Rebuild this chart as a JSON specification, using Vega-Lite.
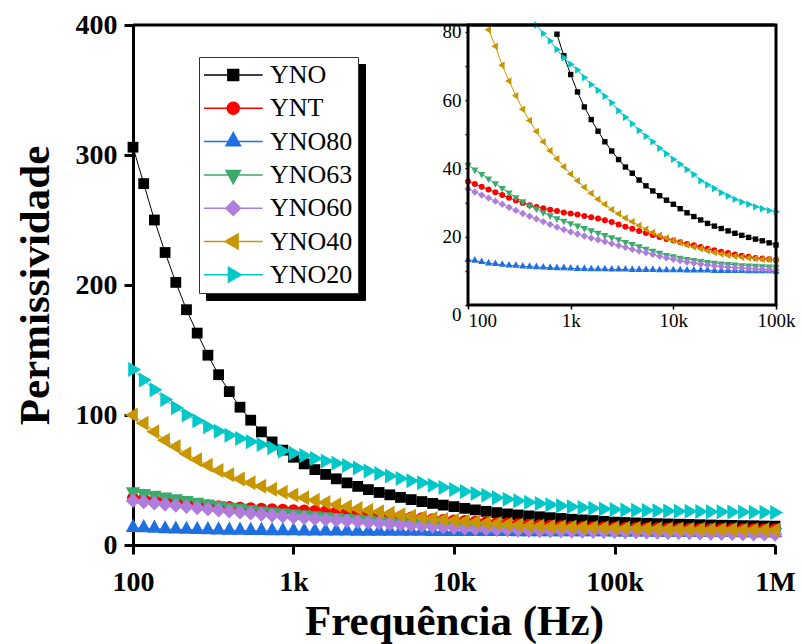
{
"$schema":"https://vega.github.io/schema/vega-lite/v6.json",
"width":642,"height":520,
"autosize":"none",
"padding":{"left":133,"top":25,"right":27,"bottom":99},
"background":"white",
"config":{"view":{"stroke":null},"font":"Liberation Serif","axis":{"grid":false,"domainColor":"black","tickColor":"black","labelColor":"black","titleColor":"black","labelFont":"Liberation Serif","titleFont":"Liberation Serif","labelFlush":false,"labelOverlap":false,"labelBound":false}},
"datasets":{"d":[
{"f":100,"s":"YNO","v":306},{"f":116.6,"s":"YNO","v":278},{"f":135.9,"s":"YNO","v":250},{"f":158.5,"s":"YNO","v":225},{"f":184.8,"s":"YNO","v":202},{"f":215.4,"s":"YNO","v":181},{"f":251.2,"s":"YNO","v":163},{"f":292.9,"s":"YNO","v":146},{"f":341.5,"s":"YNO","v":131},{"f":398.1,"s":"YNO","v":118},{"f":464.2,"s":"YNO","v":106},{"f":541.2,"s":"YNO","v":96},{"f":631,"s":"YNO","v":87},{"f":735.6,"s":"YNO","v":79.3},{"f":857.7,"s":"YNO","v":73},{"f":1000,"s":"YNO","v":67.5},
{"f":1166,"s":"YNO","v":62.4},{"f":1359,"s":"YNO","v":58},{"f":1585,"s":"YNO","v":54.3},{"f":1848,"s":"YNO","v":50.9},{"f":2154,"s":"YNO","v":47.8},{"f":2512,"s":"YNO","v":45.1},{"f":2929,"s":"YNO","v":42.6},{"f":3415,"s":"YNO","v":40.4},{"f":3981,"s":"YNO","v":38.6},{"f":4642,"s":"YNO","v":36.6},{"f":5412,"s":"YNO","v":34.9},{"f":6310,"s":"YNO","v":33.4},{"f":7356,"s":"YNO","v":32},{"f":8577,"s":"YNO","v":30.7},{"f":10000,"s":"YNO","v":29.5},
{"f":11659,"s":"YNO","v":28.2},{"f":13594,"s":"YNO","v":27},{"f":15849,"s":"YNO","v":25.9},{"f":18478,"s":"YNO","v":24.9},{"f":21544,"s":"YNO","v":23.9},{"f":25119,"s":"YNO","v":23.1},{"f":29286,"s":"YNO","v":22.4},{"f":34145,"s":"YNO","v":21.7},{"f":39811,"s":"YNO","v":21},{"f":46416,"s":"YNO","v":20.4},{"f":54117,"s":"YNO","v":19.8},{"f":63096,"s":"YNO","v":19.3},{"f":73564,"s":"YNO","v":18.8},{"f":85770,"s":"YNO","v":18.2},{"f":100000,"s":"YNO","v":17.6},
{"f":116591,"s":"YNO","v":17.3},{"f":135936,"s":"YNO","v":17},{"f":158489,"s":"YNO","v":16.7},{"f":184785,"s":"YNO","v":16.4},{"f":215443,"s":"YNO","v":16.2},{"f":251189,"s":"YNO","v":16},{"f":292864,"s":"YNO","v":15.8},{"f":341455,"s":"YNO","v":15.6},{"f":398107,"s":"YNO","v":15.4},{"f":464159,"s":"YNO","v":15.2},{"f":541170,"s":"YNO","v":15.1},{"f":630957,"s":"YNO","v":14.9},{"f":735642,"s":"YNO","v":14.8},{"f":857696,"s":"YNO","v":14.6},{"f":1000000,"s":"YNO","v":14.5},

{"f":100,"s":"YNT","v":36.2},{"f":116.6,"s":"YNT","v":35.4},{"f":135.9,"s":"YNT","v":34.6},{"f":158.5,"s":"YNT","v":33.8},{"f":184.8,"s":"YNT","v":33},{"f":215.4,"s":"YNT","v":32.2},{"f":251.2,"s":"YNT","v":31.4},{"f":292.9,"s":"YNT","v":30.6},{"f":341.5,"s":"YNT","v":29.9},{"f":398.1,"s":"YNT","v":29.2},{"f":464.2,"s":"YNT","v":28.7},{"f":541.2,"s":"YNT","v":28.3},{"f":631,"s":"YNT","v":27.9},{"f":735.6,"s":"YNT","v":27.5},{"f":857.7,"s":"YNT","v":27.1},{"f":1000,"s":"YNT","v":26.8},
{"f":1166,"s":"YNT","v":26.5},{"f":1359,"s":"YNT","v":26.1},{"f":1585,"s":"YNT","v":25.7},{"f":1848,"s":"YNT","v":25.3},{"f":2154,"s":"YNT","v":24.8},{"f":2512,"s":"YNT","v":24.3},{"f":2929,"s":"YNT","v":23.6},{"f":3415,"s":"YNT","v":22.9},{"f":3981,"s":"YNT","v":22.3},{"f":4642,"s":"YNT","v":21.7},{"f":5412,"s":"YNT","v":21.1},{"f":6310,"s":"YNT","v":20.5},{"f":7356,"s":"YNT","v":19.9},{"f":8577,"s":"YNT","v":19.3},{"f":10000,"s":"YNT","v":18.9},
{"f":11659,"s":"YNT","v":18.4},{"f":13594,"s":"YNT","v":17.9},{"f":15849,"s":"YNT","v":17.5},{"f":18478,"s":"YNT","v":17},{"f":21544,"s":"YNT","v":16.5},{"f":25119,"s":"YNT","v":16},{"f":29286,"s":"YNT","v":15.6},{"f":34145,"s":"YNT","v":15.2},{"f":39811,"s":"YNT","v":14.8},{"f":46416,"s":"YNT","v":14.4},{"f":54117,"s":"YNT","v":14.1},{"f":63096,"s":"YNT","v":13.8},{"f":73564,"s":"YNT","v":13.6},{"f":85770,"s":"YNT","v":13.4},{"f":100000,"s":"YNT","v":13.2},
{"f":116591,"s":"YNT","v":13.1},{"f":135936,"s":"YNT","v":13},{"f":158489,"s":"YNT","v":12.9},{"f":184785,"s":"YNT","v":12.8},{"f":215443,"s":"YNT","v":12.7},{"f":251189,"s":"YNT","v":12.6},{"f":292864,"s":"YNT","v":12.5},{"f":341455,"s":"YNT","v":12.4},{"f":398107,"s":"YNT","v":12.4},{"f":464159,"s":"YNT","v":12.3},{"f":541170,"s":"YNT","v":12.3},{"f":630957,"s":"YNT","v":12.2},{"f":735642,"s":"YNT","v":12.2},{"f":857696,"s":"YNT","v":12.1},{"f":1000000,"s":"YNT","v":12.1},

{"f":100,"s":"YNO80","v":13.2},{"f":116.6,"s":"YNO80","v":13},{"f":135.9,"s":"YNO80","v":12.6},{"f":158.5,"s":"YNO80","v":12.2},{"f":184.8,"s":"YNO80","v":12},{"f":215.4,"s":"YNO80","v":11.8},{"f":251.2,"s":"YNO80","v":11.6},{"f":292.9,"s":"YNO80","v":11.5},{"f":341.5,"s":"YNO80","v":11.3},{"f":398.1,"s":"YNO80","v":11.2},{"f":464.2,"s":"YNO80","v":11.1},{"f":541.2,"s":"YNO80","v":11},{"f":631,"s":"YNO80","v":10.9},{"f":735.6,"s":"YNO80","v":10.8},{"f":857.7,"s":"YNO80","v":10.8},{"f":1000,"s":"YNO80","v":10.7},
{"f":1166,"s":"YNO80","v":10.6},{"f":1359,"s":"YNO80","v":10.6},{"f":1585,"s":"YNO80","v":10.5},{"f":1848,"s":"YNO80","v":10.5},{"f":2154,"s":"YNO80","v":10.5},{"f":2512,"s":"YNO80","v":10.4},{"f":2929,"s":"YNO80","v":10.4},{"f":3415,"s":"YNO80","v":10.4},{"f":3981,"s":"YNO80","v":10.3},{"f":4642,"s":"YNO80","v":10.3},{"f":5412,"s":"YNO80","v":10.3},{"f":6310,"s":"YNO80","v":10.3},{"f":7356,"s":"YNO80","v":10.2},{"f":8577,"s":"YNO80","v":10.2},{"f":10000,"s":"YNO80","v":10.2},
{"f":11659,"s":"YNO80","v":10.2},{"f":13594,"s":"YNO80","v":10.1},{"f":15849,"s":"YNO80","v":10.1},{"f":18478,"s":"YNO80","v":10.1},{"f":21544,"s":"YNO80","v":10.1},{"f":25119,"s":"YNO80","v":10},{"f":29286,"s":"YNO80","v":10},{"f":34145,"s":"YNO80","v":10},{"f":39811,"s":"YNO80","v":10},{"f":46416,"s":"YNO80","v":10},{"f":54117,"s":"YNO80","v":9.9},{"f":63096,"s":"YNO80","v":9.9},{"f":73564,"s":"YNO80","v":9.9},{"f":85770,"s":"YNO80","v":9.9},{"f":100000,"s":"YNO80","v":9.8},
{"f":116591,"s":"YNO80","v":9.8},{"f":135936,"s":"YNO80","v":9.7},{"f":158489,"s":"YNO80","v":9.7},{"f":184785,"s":"YNO80","v":9.6},{"f":215443,"s":"YNO80","v":9.6},{"f":251189,"s":"YNO80","v":9.5},{"f":292864,"s":"YNO80","v":9.5},{"f":341455,"s":"YNO80","v":9.4},{"f":398107,"s":"YNO80","v":9.4},{"f":464159,"s":"YNO80","v":9.3},{"f":541170,"s":"YNO80","v":9.3},{"f":630957,"s":"YNO80","v":9.2},{"f":735642,"s":"YNO80","v":9.2},{"f":857696,"s":"YNO80","v":9.1},{"f":1000000,"s":"YNO80","v":9.1},

{"f":100,"s":"YNO63","v":41},{"f":116.6,"s":"YNO63","v":39.6},{"f":135.9,"s":"YNO63","v":38.3},{"f":158.5,"s":"YNO63","v":37},{"f":184.8,"s":"YNO63","v":35.6},{"f":215.4,"s":"YNO63","v":34.2},{"f":251.2,"s":"YNO63","v":32.9},{"f":292.9,"s":"YNO63","v":31.5},{"f":341.5,"s":"YNO63","v":30.3},{"f":398.1,"s":"YNO63","v":29.1},{"f":464.2,"s":"YNO63","v":28.2},{"f":541.2,"s":"YNO63","v":27.1},{"f":631,"s":"YNO63","v":26.2},{"f":735.6,"s":"YNO63","v":25.3},{"f":857.7,"s":"YNO63","v":24.6},{"f":1000,"s":"YNO63","v":23.9},
{"f":1166,"s":"YNO63","v":23.2},{"f":1359,"s":"YNO63","v":22.5},{"f":1585,"s":"YNO63","v":21.8},{"f":1848,"s":"YNO63","v":21.1},{"f":2154,"s":"YNO63","v":20.4},{"f":2512,"s":"YNO63","v":19.8},{"f":2929,"s":"YNO63","v":19.2},{"f":3415,"s":"YNO63","v":18.4},{"f":3981,"s":"YNO63","v":17.8},{"f":4642,"s":"YNO63","v":17.1},{"f":5412,"s":"YNO63","v":16.4},{"f":6310,"s":"YNO63","v":15.8},{"f":7356,"s":"YNO63","v":15.2},{"f":8577,"s":"YNO63","v":14.6},{"f":10000,"s":"YNO63","v":14.2},
{"f":11659,"s":"YNO63","v":13.8},{"f":13594,"s":"YNO63","v":13.4},{"f":15849,"s":"YNO63","v":13.1},{"f":18478,"s":"YNO63","v":12.8},{"f":21544,"s":"YNO63","v":12.5},{"f":25119,"s":"YNO63","v":12.3},{"f":29286,"s":"YNO63","v":12.1},{"f":34145,"s":"YNO63","v":11.9},{"f":39811,"s":"YNO63","v":11.8},{"f":46416,"s":"YNO63","v":11.6},{"f":54117,"s":"YNO63","v":11.5},{"f":63096,"s":"YNO63","v":11.4},{"f":73564,"s":"YNO63","v":11.3},{"f":85770,"s":"YNO63","v":11.2},{"f":100000,"s":"YNO63","v":11.1},
{"f":116591,"s":"YNO63","v":11},{"f":135936,"s":"YNO63","v":10.9},{"f":158489,"s":"YNO63","v":10.8},{"f":184785,"s":"YNO63","v":10.7},{"f":215443,"s":"YNO63","v":10.6},{"f":251189,"s":"YNO63","v":10.5},{"f":292864,"s":"YNO63","v":10.4},{"f":341455,"s":"YNO63","v":10.3},{"f":398107,"s":"YNO63","v":10.2},{"f":464159,"s":"YNO63","v":10.1},{"f":541170,"s":"YNO63","v":10},{"f":630957,"s":"YNO63","v":9.9},{"f":735642,"s":"YNO63","v":9.8},{"f":857696,"s":"YNO63","v":9.7},{"f":1000000,"s":"YNO63","v":9.6},

{"f":100,"s":"YNO60","v":34},{"f":116.6,"s":"YNO60","v":33.1},{"f":135.9,"s":"YNO60","v":32.2},{"f":158.5,"s":"YNO60","v":31.3},{"f":184.8,"s":"YNO60","v":30.4},{"f":215.4,"s":"YNO60","v":29.5},{"f":251.2,"s":"YNO60","v":28.6},{"f":292.9,"s":"YNO60","v":27.7},{"f":341.5,"s":"YNO60","v":26.8},{"f":398.1,"s":"YNO60","v":26},{"f":464.2,"s":"YNO60","v":25.2},{"f":541.2,"s":"YNO60","v":24.4},{"f":631,"s":"YNO60","v":23.6},{"f":735.6,"s":"YNO60","v":22.8},{"f":857.7,"s":"YNO60","v":22.1},{"f":1000,"s":"YNO60","v":21.4},
{"f":1166,"s":"YNO60","v":20.8},{"f":1359,"s":"YNO60","v":20.2},{"f":1585,"s":"YNO60","v":19.6},{"f":1848,"s":"YNO60","v":19.1},{"f":2154,"s":"YNO60","v":18.6},{"f":2512,"s":"YNO60","v":18},{"f":2929,"s":"YNO60","v":17.4},{"f":3415,"s":"YNO60","v":16.9},{"f":3981,"s":"YNO60","v":16.3},{"f":4642,"s":"YNO60","v":15.8},{"f":5412,"s":"YNO60","v":15.3},{"f":6310,"s":"YNO60","v":14.8},{"f":7356,"s":"YNO60","v":14.3},{"f":8577,"s":"YNO60","v":13.8},{"f":10000,"s":"YNO60","v":13.4},
{"f":11659,"s":"YNO60","v":13},{"f":13594,"s":"YNO60","v":12.6},{"f":15849,"s":"YNO60","v":12.3},{"f":18478,"s":"YNO60","v":12},{"f":21544,"s":"YNO60","v":11.7},{"f":25119,"s":"YNO60","v":11.5},{"f":29286,"s":"YNO60","v":11.3},{"f":34145,"s":"YNO60","v":11.1},{"f":39811,"s":"YNO60","v":10.9},{"f":46416,"s":"YNO60","v":10.8},{"f":54117,"s":"YNO60","v":10.7},{"f":63096,"s":"YNO60","v":10.6},{"f":73564,"s":"YNO60","v":10.5},{"f":85770,"s":"YNO60","v":10.4},{"f":100000,"s":"YNO60","v":10.3},
{"f":116591,"s":"YNO60","v":10.1},{"f":135936,"s":"YNO60","v":10},{"f":158489,"s":"YNO60","v":9.8},{"f":184785,"s":"YNO60","v":9.7},{"f":215443,"s":"YNO60","v":9.5},{"f":251189,"s":"YNO60","v":9.4},{"f":292864,"s":"YNO60","v":9.2},{"f":341455,"s":"YNO60","v":9.1},{"f":398107,"s":"YNO60","v":8.9},{"f":464159,"s":"YNO60","v":8.8},{"f":541170,"s":"YNO60","v":8.7},{"f":630957,"s":"YNO60","v":8.5},{"f":735642,"s":"YNO60","v":8.4},{"f":857696,"s":"YNO60","v":8.3},{"f":1000000,"s":"YNO60","v":8.2},

{"f":100,"s":"YNO40","v":100},{"f":116.6,"s":"YNO40","v":93.6},{"f":135.9,"s":"YNO40","v":87.2},{"f":158.5,"s":"YNO40","v":80.6},{"f":184.8,"s":"YNO40","v":75.8},{"f":215.4,"s":"YNO40","v":70.2},{"f":251.2,"s":"YNO40","v":65.6},{"f":292.9,"s":"YNO40","v":61.3},{"f":341.5,"s":"YNO40","v":57.3},{"f":398.1,"s":"YNO40","v":54},{"f":464.2,"s":"YNO40","v":50.8},{"f":541.2,"s":"YNO40","v":47.8},{"f":631,"s":"YNO40","v":45.2},{"f":735.6,"s":"YNO40","v":42.8},{"f":857.7,"s":"YNO40","v":40.5},{"f":1000,"s":"YNO40","v":38.4},
{"f":1166,"s":"YNO40","v":36.4},{"f":1359,"s":"YNO40","v":34.5},{"f":1585,"s":"YNO40","v":32.7},{"f":1848,"s":"YNO40","v":31},{"f":2154,"s":"YNO40","v":29.5},{"f":2512,"s":"YNO40","v":28},{"f":2929,"s":"YNO40","v":26.7},{"f":3415,"s":"YNO40","v":25.5},{"f":3981,"s":"YNO40","v":24.4},{"f":4642,"s":"YNO40","v":23.3},{"f":5412,"s":"YNO40","v":22.2},{"f":6310,"s":"YNO40","v":21.2},{"f":7356,"s":"YNO40","v":20.4},{"f":8577,"s":"YNO40","v":19.6},{"f":10000,"s":"YNO40","v":18.9},
{"f":11659,"s":"YNO40","v":18.2},{"f":13594,"s":"YNO40","v":17.6},{"f":15849,"s":"YNO40","v":17},{"f":18478,"s":"YNO40","v":16.5},{"f":21544,"s":"YNO40","v":15.9},{"f":25119,"s":"YNO40","v":15.4},{"f":29286,"s":"YNO40","v":14.9},{"f":34145,"s":"YNO40","v":14.6},{"f":39811,"s":"YNO40","v":14.3},{"f":46416,"s":"YNO40","v":14},{"f":54117,"s":"YNO40","v":13.8},{"f":63096,"s":"YNO40","v":13.6},{"f":73564,"s":"YNO40","v":13.4},{"f":85770,"s":"YNO40","v":13.3},{"f":100000,"s":"YNO40","v":13.2},
{"f":116591,"s":"YNO40","v":12.9},{"f":135936,"s":"YNO40","v":12.8},{"f":158489,"s":"YNO40","v":12.6},{"f":184785,"s":"YNO40","v":12.5},{"f":215443,"s":"YNO40","v":12.4},{"f":251189,"s":"YNO40","v":12.3},{"f":292864,"s":"YNO40","v":12.2},{"f":341455,"s":"YNO40","v":12.1},{"f":398107,"s":"YNO40","v":12},{"f":464159,"s":"YNO40","v":11.9},{"f":541170,"s":"YNO40","v":11.9},{"f":630957,"s":"YNO40","v":11.8},{"f":735642,"s":"YNO40","v":11.7},{"f":857696,"s":"YNO40","v":11.7},{"f":1000000,"s":"YNO40","v":11.6},

{"f":100,"s":"YNO20","v":135},{"f":116.6,"s":"YNO20","v":127},{"f":135.9,"s":"YNO20","v":119.5},{"f":158.5,"s":"YNO20","v":112},{"f":184.8,"s":"YNO20","v":105.5},{"f":215.4,"s":"YNO20","v":100},{"f":251.2,"s":"YNO20","v":95.5},{"f":292.9,"s":"YNO20","v":91},{"f":341.5,"s":"YNO20","v":87.5},{"f":398.1,"s":"YNO20","v":84.5},{"f":464.2,"s":"YNO20","v":82},{"f":541.2,"s":"YNO20","v":79.5},{"f":631,"s":"YNO20","v":77.3},{"f":735.6,"s":"YNO20","v":74.8},{"f":857.7,"s":"YNO20","v":72.4},{"f":1000,"s":"YNO20","v":70.5},
{"f":1166,"s":"YNO20","v":68.8},{"f":1359,"s":"YNO20","v":66.6},{"f":1585,"s":"YNO20","v":64.6},{"f":1848,"s":"YNO20","v":62.9},{"f":2154,"s":"YNO20","v":61.1},{"f":2512,"s":"YNO20","v":59.2},{"f":2929,"s":"YNO20","v":56.9},{"f":3415,"s":"YNO20","v":55},{"f":3981,"s":"YNO20","v":53.1},{"f":4642,"s":"YNO20","v":51.1},{"f":5412,"s":"YNO20","v":49.4},{"f":6310,"s":"YNO20","v":47.8},{"f":7356,"s":"YNO20","v":45.9},{"f":8577,"s":"YNO20","v":44.3},{"f":10000,"s":"YNO20","v":42.7},
{"f":11659,"s":"YNO20","v":41.2},{"f":13594,"s":"YNO20","v":39.7},{"f":15849,"s":"YNO20","v":38.2},{"f":18478,"s":"YNO20","v":36.4},{"f":21544,"s":"YNO20","v":35.2},{"f":25119,"s":"YNO20","v":34.1},{"f":29286,"s":"YNO20","v":32.9},{"f":34145,"s":"YNO20","v":31.9},{"f":39811,"s":"YNO20","v":31},{"f":46416,"s":"YNO20","v":30.2},{"f":54117,"s":"YNO20","v":29.5},{"f":63096,"s":"YNO20","v":28.8},{"f":73564,"s":"YNO20","v":28.2},{"f":85770,"s":"YNO20","v":27.7},{"f":100000,"s":"YNO20","v":27.3},
{"f":116591,"s":"YNO20","v":27},{"f":135936,"s":"YNO20","v":26.8},{"f":158489,"s":"YNO20","v":26.6},{"f":184785,"s":"YNO20","v":26.4},{"f":215443,"s":"YNO20","v":26.2},{"f":251189,"s":"YNO20","v":26},{"f":292864,"s":"YNO20","v":25.9},{"f":341455,"s":"YNO20","v":25.7},{"f":398107,"s":"YNO20","v":25.6},{"f":464159,"s":"YNO20","v":25.5},{"f":541170,"s":"YNO20","v":25.4},{"f":630957,"s":"YNO20","v":25.3},{"f":735642,"s":"YNO20","v":25.2},{"f":857696,"s":"YNO20","v":25.1},{"f":1000000,"s":"YNO20","v":25}
]},
"layer":[
{"data":{"name":"d"},"transform":[{"filter":"datum.f == 100"}],
 "mark":{"type":"point","filled":true,"opacity":0,"size":144},
 "encoding":{
  "x":{"field":"f","type":"quantitative","axis":null},
  "y":{"field":"v","type":"quantitative","axis":null},
  "fill":{"field":"s","type":"nominal","scale":{"domain":["YNO","YNT","YNO80","YNO63","YNO60","YNO40","YNO20"],"range":["#000000","#FF0000","#1F6FE0","#3BAA6B","#AF7DDC","#C89600","#00C8C8"]},"legend":{"orient":"none","legendX":73,"legendY":39,"direction":"vertical","title":null,"fillColor":"black","strokeColor":"black","padding":5,"rowPadding":7.3,"clipHeight":26,"symbolSize":144,"symbolStrokeWidth":1.5,"symbolOpacity":0,"symbolOffset":16.25,"labelOffset":106,"labelExpr":"''","labelFont":"Liberation Serif","labelFontSize":26,"labelColor":"black","zindex":1}},
  "stroke":{"field":"s","type":"nominal","scale":{"domain":["YNO","YNT","YNO80","YNO63","YNO60","YNO40","YNO20"],"range":["#000000","#FF0000","#1F6FE0","#3BAA6B","#AF7DDC","#C89600","#00C8C8"]},"legend":{"orient":"none","legendX":73,"legendY":39,"direction":"vertical","title":null,"fillColor":"black","strokeColor":"black","padding":5,"rowPadding":7.3,"clipHeight":26,"symbolSize":144,"symbolStrokeWidth":1.5,"symbolOpacity":0,"symbolOffset":16.25,"labelOffset":106,"labelExpr":"''","labelFont":"Liberation Serif","labelFontSize":26,"labelColor":"black","zindex":1}},
  "shape":{"field":"s","type":"nominal","scale":{"domain":["YNO","YNT","YNO80","YNO63","YNO60","YNO40","YNO20"],"range":["M-4.9,0H4.9M-0.9,-0.9H0.9V0.9H-0.9Z","M-4.9,0H4.9M-1,0A1,1,0,1,0,1,0A1,1,0,1,0,-1,0Z","M-4.9,0H4.9M0,-1.5L1.2,0.7L-1.2,0.7Z","M-4.9,0H4.9M-1.2,-0.75L1.2,-0.75L0,1.45Z","M-4.9,0H4.9M0,-1.22L1.22,0L0,1.22L-1.22,0Z","M-4.9,0H4.9M-1.35,0L0.8,-1.25L0.8,1.25Z","M-4.9,0H4.9M1.35,0L-0.8,-1.25L-0.8,1.25Z"]},"legend":{"orient":"none","legendX":73,"legendY":39,"direction":"vertical","title":null,"fillColor":"black","strokeColor":"black","padding":5,"rowPadding":7.3,"clipHeight":26,"symbolSize":144,"symbolStrokeWidth":1.5,"symbolOpacity":0,"symbolOffset":16.25,"labelOffset":106,"labelExpr":"''","labelFont":"Liberation Serif","labelFontSize":26,"labelColor":"black","zindex":1}}
 }},
{"data":{"name":"d"},"transform":[{"filter":"datum.f == 100"}],
 "mark":{"type":"point","filled":true,"opacity":0,"size":144},
 "encoding":{
  "x":{"field":"f","type":"quantitative","axis":null},
  "y":{"field":"v","type":"quantitative","axis":null},
  "fill":{"field":"s","type":"nominal","scale":{"domain":["YNO","YNT","YNO80","YNO63","YNO60","YNO40","YNO20"],"range":["#000000","#FF0000","#1F6FE0","#3BAA6B","#AF7DDC","#C89600","#00C8C8"]},"legend":{"orient":"none","legendX":66,"legendY":32,"direction":"vertical","title":null,"fillColor":"white","strokeColor":"#333333","padding":5,"rowPadding":7.3,"clipHeight":26,"symbolSize":144,"symbolStrokeWidth":1.5,"symbolOpacity":1,"symbolOffset":16.25,"labelOffset":23.7,"labelFont":"Liberation Serif","labelFontSize":26,"labelColor":"black","zindex":1}},
  "stroke":{"field":"s","type":"nominal","scale":{"domain":["YNO","YNT","YNO80","YNO63","YNO60","YNO40","YNO20"],"range":["#000000","#FF0000","#1F6FE0","#3BAA6B","#AF7DDC","#C89600","#00C8C8"]},"legend":{"orient":"none","legendX":66,"legendY":32,"direction":"vertical","title":null,"fillColor":"white","strokeColor":"#333333","padding":5,"rowPadding":7.3,"clipHeight":26,"symbolSize":144,"symbolStrokeWidth":1.5,"symbolOpacity":1,"symbolOffset":16.25,"labelOffset":23.7,"labelFont":"Liberation Serif","labelFontSize":26,"labelColor":"black","zindex":1}},
  "shape":{"field":"s","type":"nominal","scale":{"domain":["YNO","YNT","YNO80","YNO63","YNO60","YNO40","YNO20"],"range":["M-4.9,0H4.9M-0.9,-0.9H0.9V0.9H-0.9Z","M-4.9,0H4.9M-1,0A1,1,0,1,0,1,0A1,1,0,1,0,-1,0Z","M-4.9,0H4.9M0,-1.5L1.2,0.7L-1.2,0.7Z","M-4.9,0H4.9M-1.2,-0.75L1.2,-0.75L0,1.45Z","M-4.9,0H4.9M0,-1.22L1.22,0L0,1.22L-1.22,0Z","M-4.9,0H4.9M-1.35,0L0.8,-1.25L0.8,1.25Z","M-4.9,0H4.9M1.35,0L-0.8,-1.25L-0.8,1.25Z"]},"legend":{"orient":"none","legendX":66,"legendY":32,"direction":"vertical","title":null,"fillColor":"white","strokeColor":"#333333","padding":5,"rowPadding":7.3,"clipHeight":26,"symbolSize":144,"symbolStrokeWidth":1.5,"symbolOpacity":1,"symbolOffset":16.25,"labelOffset":23.7,"labelFont":"Liberation Serif","labelFontSize":26,"labelColor":"black","zindex":1}}
 }},
{"data":{"name":"d"},
 "layer":[
  {"data":{"values":[{}]},"mark":{"type":"rule","color":"black","strokeWidth":3},
   "encoding":{"y":{"datum":400,"type":"quantitative","scale":{"domain":[0,400],"nice":false},"axis":{"orient":"left","values":[0,100,200,300,400],"title":"Permissividade","titleFontSize":43,"titleFontWeight":"bold","labelFontSize":28,"labelFontWeight":"bold","domainWidth":3,"tickWidth":3,"tickSize":9,"labelPadding":7,"titlePadding":18}}}},
  {"mark":{"type":"line","strokeWidth":1},
   "encoding":{
    "x":{"field":"f","type":"quantitative","scale":{"type":"log","domain":[100,1000000],"nice":false},"axis":{"orient":"bottom","values":[100,1000,10000,100000,1000000],"labelExpr":"datum.value >= 1000000 ? '1M' : datum.value >= 1000 ? (datum.value/1000) + 'k' : '100'","title":"Frequência (Hz)","titleFontSize":43,"titleFontWeight":"bold","labelFontSize":28,"labelFontWeight":"bold","domainWidth":3,"tickWidth":3,"tickSize":9,"labelPadding":14,"titlePadding":4}},
    "y":{"field":"v","type":"quantitative","scale":{"domain":[0,400],"nice":false},"axis":{"orient":"left","values":[0,100,200,300,400],"title":"Permissividade","titleFontSize":43,"titleFontWeight":"bold","labelFontSize":28,"labelFontWeight":"bold","domainWidth":3,"tickWidth":3,"tickSize":9,"labelPadding":7,"titlePadding":18}},
    "color":{"field":"s","type":"nominal","scale":{"domain":["YNO","YNT","YNO80","YNO63","YNO60","YNO40","YNO20"],"range":["#000000","#FF0000","#1F6FE0","#3BAA6B","#AF7DDC","#C89600","#00C8C8"]},"legend":null}
   }},
  {"mark":{"type":"point","filled":true,"size":144,"opacity":1},
   "encoding":{
    "x":{"field":"f","type":"quantitative","scale":{"type":"log","domain":[100,1000000],"nice":false},"axis":{"orient":"bottom","values":[100,1000,10000,100000,1000000],"labelExpr":"datum.value >= 1000000 ? '1M' : datum.value >= 1000 ? (datum.value/1000) + 'k' : '100'","title":"Frequência (Hz)","titleFontSize":43,"titleFontWeight":"bold","labelFontSize":28,"labelFontWeight":"bold","domainWidth":3,"tickWidth":3,"tickSize":9,"labelPadding":14,"titlePadding":4}},
    "y":{"field":"v","type":"quantitative","scale":{"domain":[0,400],"nice":false},"axis":{"orient":"left","values":[0,100,200,300,400],"title":"Permissividade","titleFontSize":43,"titleFontWeight":"bold","labelFontSize":28,"labelFontWeight":"bold","domainWidth":3,"tickWidth":3,"tickSize":9,"labelPadding":7,"titlePadding":18}},
    "color":{"field":"s","type":"nominal","scale":{"domain":["YNO","YNT","YNO80","YNO63","YNO60","YNO40","YNO20"],"range":["#000000","#FF0000","#1F6FE0","#3BAA6B","#AF7DDC","#C89600","#00C8C8"]},"legend":null},
    "shape":{"field":"s","type":"nominal","scale":{"domain":["YNO","YNT","YNO80","YNO63","YNO60","YNO40","YNO20"],"range":["M-0.9,-0.9H0.9V0.9H-0.9Z","circle","M0,-1.5L1.2,0.7L-1.2,0.7Z","M-1.2,-0.75L1.2,-0.75L0,1.45Z","M0,-1.22L1.22,0L0,1.22L-1.22,0Z","M-1.35,0L0.8,-1.25L0.8,1.25Z","M1.35,0L-0.8,-1.25L-0.8,1.25Z"]},"legend":null}
   }}
 ]},
{"layer":[
  {"data":{"name":"d"},"transform":[{"filter":"datum.f <= 100000 && datum.v <= 82"}],
   "mark":{"type":"line","strokeWidth":1},
   "encoding":{
    "x":{"field":"f","type":"quantitative","scale":{"type":"log","domain":[100,100000],"range":[335,643],"nice":false},"axis":{"orient":"bottom","offset":-240,"values":[100,1000,10000,100000],"labelExpr":"datum.value >= 1000 ? (datum.value/1000) + 'k' : '100'","title":null,"labelFontSize":19,"labelFontWeight":"normal","domain":false,"tickWidth":1.5,"tickSize":4,"labelPadding":2,"labelAlign":{"condition":{"test":"datum.value == 100","value":"left"},"value":"center"}}},
    "y":{"field":"v","type":"quantitative","scale":{"domain":[0,82],"range":[280,0],"nice":false},"axis":{"orient":"left","offset":-335,"values":[0,10,20,30,40,50,60,70,80],"labelExpr":"datum.value % 20 == 0 ? datum.label : ''","title":null,"labelFontSize":19,"labelFontWeight":"normal","domain":false,"tickWidth":1.5,"tickSize":3,"labelPadding":4,"labelBaseline":{"condition":{"test":"datum.value == 0","value":"top"},"value":"middle"}}},
    "color":{"field":"s","type":"nominal","scale":{"domain":["YNO","YNT","YNO80","YNO63","YNO60","YNO40","YNO20"],"range":["#000000","#FF0000","#1F6FE0","#3BAA6B","#AF7DDC","#C89600","#00C8C8"]},"legend":null}
   }},
  {"data":{"name":"d"},"transform":[{"filter":"datum.f <= 100000 && datum.v <= 82"}],
   "mark":{"type":"point","filled":true,"size":36,"opacity":1},
   "encoding":{
    "x":{"field":"f","type":"quantitative","scale":{"type":"log","domain":[100,100000],"range":[335,643],"nice":false}},
    "y":{"field":"v","type":"quantitative","scale":{"domain":[0,82],"range":[280,0],"nice":false}},
    "color":{"field":"s","type":"nominal","scale":{"domain":["YNO","YNT","YNO80","YNO63","YNO60","YNO40","YNO20"],"range":["#000000","#FF0000","#1F6FE0","#3BAA6B","#AF7DDC","#C89600","#00C8C8"]},"legend":null},
    "shape":{"field":"s","type":"nominal","scale":{"domain":["YNO","YNT","YNO80","YNO63","YNO60","YNO40","YNO20"],"range":["M-0.9,-0.9H0.9V0.9H-0.9Z","circle","M0,-1.5L1.2,0.7L-1.2,0.7Z","M-1.2,-0.75L1.2,-0.75L0,1.45Z","M0,-1.22L1.22,0L0,1.22L-1.22,0Z","M-1.35,0L0.8,-1.25L0.8,1.25Z","M1.35,0L-0.8,-1.25L-0.8,1.25Z"]},"legend":null}
   }},
  {"data":{"values":[{}]},
   "mark":{"type":"rect","filled":false,"color":"black","strokeWidth":3},
   "encoding":{
    "x":{"datum":100,"type":"quantitative"},
    "x2":{"datum":100000},
    "y":{"datum":0,"type":"quantitative"},
    "y2":{"datum":82}
   }}
 ]}
],
"resolve":{"scale":{"x":"independent","y":"independent","color":"independent","fill":"independent","stroke":"independent","shape":"independent"},"axis":{"x":"independent","y":"independent"},"legend":{"color":"independent","fill":"independent","stroke":"independent","shape":"independent"}}
}
